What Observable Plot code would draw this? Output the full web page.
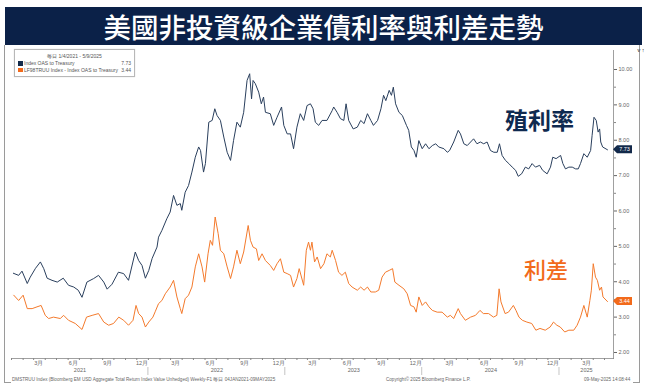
<!DOCTYPE html>
<html><head><meta charset="utf-8">
<script src="https://cdn.jsdelivr.net/npm/d3@7"></script>
<script src="https://cdn.jsdelivr.net/npm/@observablehq/plot@0.6"></script>
<style>
html,body{margin:0;padding:0;background:#fff;}
body{width:647px;height:391px;overflow:hidden;position:relative;font-family:"Noto Sans CJK TC","Noto Sans",sans-serif;}
#title{position:absolute;left:5px;top:7px;width:637px;height:38px;background:#0b2148;color:#fff;font-size:27.5px;line-height:38px;text-align:center;font-weight:500;}
#frameL{position:absolute;left:4px;top:45px;width:1px;height:338px;background:#9a9a9a;}
#frameR{position:absolute;left:639px;top:45px;width:1px;height:338px;background:#9a9a9a;}
#frameBL{position:absolute;left:4px;top:382px;width:7px;height:1px;background:#9a9a9a;}
#frameBR{position:absolute;left:633px;top:382px;width:7px;height:1px;background:#9a9a9a;}
#chart{position:absolute;left:0;top:45px;}
.cap{position:absolute;top:377px;font-family:"Liberation Sans Narrow","Liberation Sans",sans-serif;font-size:4.6px;color:#666;white-space:nowrap;line-height:6px;}
#legend{position:absolute;left:14px;top:49px;width:119px;height:26px;border:1px solid #b8b8b8;background:#fff;font-family:"Liberation Sans Narrow","Liberation Sans",sans-serif;font-size:5px;color:#555;box-shadow:0 0 1px #ccc;}
#legend .hd{text-align:center;margin-top:3px;line-height:7px;}
#legend .row{position:relative;height:6.5px;line-height:6.5px;padding-left:9px;}
#legend .sw{position:absolute;left:3px;top:1px;width:4.5px;height:4.5px;}
#legend .val{position:absolute;right:3px;top:0;}
.ann{position:absolute;font-family:"Noto Sans CJK TC","Noto Sans",sans-serif;white-space:nowrap;}
</style></head>
<body>
<div id="title">美國非投資級企業債利率與利差走勢</div>
<div id="frameL"></div><div id="frameR"></div><div id="frameBL"></div><div id="frameBR"></div>
<div id="chart"></div>
<div id="legend">
  <div class="hd">毎日 1/4/2021 - 5/9/2025</div>
  <div class="row"><span class="sw" style="background:#142c4c"></span>Index OAS to Treasury<span class="val">7.73</span></div>
  <div class="row"><span class="sw" style="background:#f26a1b"></span>LF98TRUU Index - Index OAS to Treasury<span class="val">3.44</span></div>
</div>
<div class="ann" style="left:505px;top:104px;font-size:23px;font-weight:700;color:#0f2a50;line-height:30px;">殖利率</div>
<div class="ann" style="left:524px;top:254px;font-size:22px;font-weight:500;color:#f26a1b;line-height:28px;">利差</div>
<div class="cap" style="left:12px;">DMSTRUU Index (Bloomberg EM USD Aggregate Total Return Index Value Unhedged) Weekly-F1 毎日 04JAN2021-09MAY2025</div>
<div class="cap" style="left:386px;">Copyright© 2025 Bloomberg Finance L.P.</div>
<div class="cap" style="left:584px;">09-May-2025 14:08:44</div>
<script>
// ---- data ----
const yieldDates = ["2021-01-06","2021-01-20","2021-01-29","2021-02-12","2021-02-20","2021-03-06","2021-03-19","2021-03-28","2021-04-06","2021-04-19",
"2021-05-03","2021-05-19","2021-06-02","2021-06-16","2021-06-28","2021-07-08","2021-07-21","2021-08-08","2021-08-21","2021-09-04",
"2021-09-13","2021-09-26","2021-10-13","2021-10-27","2021-11-09","2021-11-27","2021-12-06","2021-12-15","2021-12-24","2022-01-02",
"2022-01-11","2022-01-24","2022-01-28","2022-02-06","2022-02-19","2022-02-28","2022-03-09","2022-03-18","2022-03-27","2022-03-31",
"2022-04-09","2022-04-18","2022-04-27","2022-05-06","2022-05-15","2022-05-20","2022-05-28","2022-06-02","2022-06-11","2022-06-20",
"2022-06-27","2022-07-03","2022-07-12","2022-07-21","2022-07-30","2022-08-08","2022-08-16","2022-08-25","2022-09-03","2022-09-12",
"2022-09-21","2022-09-28","2022-10-03","2022-10-07","2022-10-13","2022-10-22","2022-10-29","2022-11-04","2022-11-09","2022-11-22",
"2022-12-01","2022-12-10","2022-12-22","2022-12-28","2023-01-06","2023-01-15","2023-01-23","2023-02-01","2023-02-10","2023-02-19",
"2023-02-28","2023-03-09","2023-03-16","2023-03-22","2023-03-31","2023-04-09","2023-04-22","2023-05-06","2023-05-10","2023-05-19",
"2023-05-28","2023-06-06","2023-06-12","2023-06-19","2023-07-01","2023-07-12","2023-07-21","2023-07-30","2023-08-08","2023-08-17",
"2023-08-24","2023-09-04","2023-09-13","2023-09-20","2023-09-26","2023-10-05","2023-10-11","2023-10-16","2023-10-22","2023-10-31",
"2023-11-09","2023-11-20","2023-11-26","2023-12-03","2023-12-10","2023-12-16","2023-12-23","2024-01-01","2024-01-10","2024-01-19",
"2024-01-28","2024-02-06","2024-02-14","2024-02-28","2024-03-08","2024-03-14","2024-03-25","2024-04-06","2024-04-12","2024-04-21",
"2024-04-30","2024-05-09","2024-05-17","2024-05-26","2024-06-04","2024-06-13","2024-06-22","2024-07-01","2024-07-10","2024-07-19",
"2024-07-25","2024-08-01","2024-08-10","2024-08-19","2024-08-28","2024-09-06","2024-09-13","2024-09-22","2024-10-02","2024-10-11",
"2024-10-20","2024-10-29","2024-11-09","2024-11-17","2024-11-29","2024-12-08","2024-12-14","2024-12-23","2025-01-04","2025-01-10",
"2025-01-17","2025-01-26","2025-02-04","2025-02-13","2025-02-20","2025-02-26","2025-03-07","2025-03-16","2025-03-25","2025-03-29",
"2025-04-03","2025-04-09","2025-04-14","2025-04-18","2025-04-21","2025-04-26","2025-05-09"];
const yieldValues = [4.24,4.18,4.30,3.95,4.13,4.38,4.56,4.37,4.10,4.04,
3.99,4.10,3.90,3.85,3.76,3.56,3.99,4.09,4.18,3.99,
3.79,3.93,4.27,4.23,4.04,4.84,4.60,4.46,4.10,4.32,
4.66,4.98,5.26,5.45,5.78,5.97,6.44,6.16,6.21,6.02,
6.53,6.72,7.10,7.52,7.81,7.71,7.10,7.34,8.51,8.56,
8.89,8.70,8.56,8.09,7.66,7.43,7.99,8.51,8.37,8.79,
9.69,9.88,9.17,9.69,9.60,9.36,9.03,9.22,8.79,8.75,
8.42,8.65,8.94,8.42,8.18,8.18,7.76,8.37,8.75,8.56,
8.98,9.03,8.89,8.51,8.42,8.56,8.56,8.84,8.94,8.79,
8.61,8.56,9.03,8.56,8.32,8.37,8.56,8.47,8.75,8.56,
8.42,8.56,8.89,9.27,9.12,9.41,9.27,9.50,9.03,8.79,
8.70,8.42,8.28,7.81,7.71,7.52,7.99,7.76,7.90,7.76,
7.85,7.90,7.81,7.76,7.66,7.71,7.95,8.28,8.18,7.90,
7.85,7.95,8.04,7.90,7.95,7.90,7.95,7.71,7.66,7.66,
7.90,7.57,7.43,7.34,7.24,7.15,6.98,7.05,7.24,7.19,
7.34,7.24,7.29,7.15,7.05,7.24,7.52,7.48,7.57,7.34,
7.19,7.24,7.24,7.19,7.19,7.34,7.62,7.52,7.71,8.14,
8.65,8.56,8.23,8.32,7.95,7.81,7.73];

const spreadDates = ["2021-01-07","2021-01-20","2021-02-01","2021-02-12","2021-02-25","2021-03-10","2021-03-21","2021-04-01","2021-04-10","2021-04-23",
"2021-05-11","2021-05-20","2021-06-02","2021-06-20","2021-07-08","2021-07-20","2021-08-04","2021-08-21","2021-09-04","2021-09-17",
"2021-09-30","2021-10-14","2021-10-27","2021-11-09","2021-11-21","2021-11-29","2021-12-06","2021-12-15","2021-12-24","2022-01-02",
"2022-01-13","2022-01-19","2022-01-28","2022-02-06","2022-02-15","2022-02-28","2022-03-09","2022-03-18","2022-03-27","2022-03-31",
"2022-04-09","2022-04-18","2022-04-27","2022-05-06","2022-05-15","2022-05-24","2022-05-31","2022-06-09","2022-06-15","2022-06-21",
"2022-06-28","2022-07-06","2022-07-12","2022-07-21","2022-07-30","2022-08-08","2022-08-16","2022-08-25","2022-09-03","2022-09-12",
"2022-09-24","2022-09-30","2022-10-07","2022-10-16","2022-10-22","2022-10-31","2022-11-09","2022-11-22","2022-12-01","2022-12-10",
"2022-12-19","2022-12-28","2023-01-06","2023-01-15","2023-01-23","2023-02-01","2023-02-07","2023-02-19","2023-02-26","2023-03-04",
"2023-03-09","2023-03-13","2023-03-20","2023-03-27","2023-04-05","2023-04-14","2023-04-22","2023-05-01","2023-05-06","2023-05-15",
"2023-05-23","2023-06-01","2023-06-10","2023-06-19","2023-06-28","2023-07-12","2023-07-21","2023-07-30","2023-08-08","2023-08-17",
"2023-08-29","2023-09-07","2023-09-16","2023-09-25","2023-10-05","2023-10-14","2023-10-20","2023-10-31","2023-11-13","2023-11-22",
"2023-12-01","2023-12-10","2023-12-16","2023-12-23","2024-01-01","2024-01-10","2024-01-19","2024-01-28","2024-02-10","2024-02-23",
"2024-03-08","2024-03-16","2024-03-25","2024-04-06","2024-04-12","2024-04-25","2024-05-09","2024-05-22","2024-06-03","2024-06-12",
"2024-06-26","2024-07-09","2024-07-18","2024-07-24","2024-07-29","2024-08-09","2024-08-18","2024-08-31","2024-09-07","2024-09-15",
"2024-09-24","2024-10-06","2024-10-19","2024-10-30","2024-11-10","2024-11-24","2024-12-07","2024-12-16","2024-12-25","2025-01-03",
"2025-01-15","2025-01-26","2025-02-08","2025-02-17","2025-02-26","2025-03-07","2025-03-16","2025-03-23","2025-03-27","2025-04-01",
"2025-04-07","2025-04-12","2025-04-18","2025-04-23","2025-04-27","2025-05-09"];
const spreadValues = [3.62,3.47,3.62,3.24,3.24,3.29,3.33,3.05,2.96,3.00,
2.96,3.05,2.91,2.82,2.65,3.00,3.05,3.10,2.86,2.77,
2.82,3.00,2.91,2.77,2.91,3.33,3.10,3.00,2.72,2.86,
3.00,3.15,3.38,3.47,3.66,3.85,4.04,3.57,3.24,3.10,
3.52,3.62,3.85,4.42,4.79,4.42,3.99,4.79,5.17,5.03,
5.83,5.36,4.89,4.79,4.42,4.09,4.42,4.89,4.51,4.84,
5.59,5.17,4.98,4.93,4.60,4.79,4.60,4.46,4.32,4.51,
4.65,4.27,4.23,4.18,3.85,4.09,4.37,3.90,4.89,5.12,
4.89,5.12,4.56,4.70,4.37,4.51,4.79,4.70,4.89,4.60,
4.27,4.18,4.27,3.95,3.85,3.76,3.85,3.76,3.85,3.71,
3.71,3.76,4.13,4.27,4.32,4.37,3.99,3.90,3.80,3.66,
3.33,3.29,3.14,3.57,3.33,3.43,3.29,3.19,3.14,3.14,
3.00,3.05,2.96,3.24,3.10,2.91,3.00,3.05,3.19,3.10,
3.10,3.00,3.05,3.80,3.43,3.10,3.14,3.33,3.19,3.00,
2.91,2.86,2.82,2.63,2.68,2.63,2.72,2.86,2.77,2.72,
2.58,2.63,2.63,2.77,3.00,3.33,3.00,3.47,3.76,4.51,
4.13,4.04,3.76,3.85,3.57,3.44];

const yTicks = [2,3,4,5,6,7,8,9,10];
const yMinorTicks = [2.5,3.5,4.5,5.5,6.5,7.5,8.5,9.5];
const monthLabels = ["3月","6月","9月","12月"];
const monthLabelIndex = [2,5,8,11];
const yearLabels = ["2021","2022","2023","2024","2025"];
const lastYield = "7.73", lastSpread = "3.44";

// ---- build ----
const xStart = new Date(Date.UTC(2021,0,1)), xEnd = new Date(Date.UTC(2025,4,25));
const yieldRows = yieldDates.map((d,i)=>({date:new Date(d), v:yieldValues[i]}));
const spreadRows = spreadDates.map((d,i)=>({date:new Date(d), v:spreadValues[i]}));
const monthStarts = d3.utcMonth.range(xStart, xEnd);
const monthLab = [];
yearLabels.forEach(y=>monthLabelIndex.forEach((m,j)=>{
  const d = new Date(Date.UTC(+y, m, 15));
  if (d < xEnd) monthLab.push({date:d, label:monthLabels[j]});
}));
const yearLab = yearLabels.map(y=>{
  const a = new Date(Date.UTC(+y,0,1)), b = new Date(Math.min(+new Date(Date.UTC(+y+1,0,1)), +xEnd));
  return {date:new Date((+a + +b)/2), label:y};
});
const yearStarts = yearLabels.slice(1).map(y=>new Date(Date.UTC(+y,0,1)));

const axisFont = "'Liberation Sans Narrow','Liberation Sans',sans-serif";
const chart = Plot.plot({
  width: 647, height: 340,
  marginLeft: 11, marginRight: 34, marginTop: 5, marginBottom: 27,
  style: {background:"transparent", fontFamily: axisFont, fontSize:"5.5px", color:"#666", overflow:"visible"},
  x: {type:"utc", domain:[xStart, xEnd], axis:null},
  y: {domain:[1.83, 10.537], axis:null},
  marks: [
    Plot.frame({anchor:"bottom", stroke:"#888", strokeWidth:0.8}),
    Plot.frame({anchor:"right", stroke:"#888", strokeWidth:0.8}),
    Plot.axisY({anchor:"right", ticks:yTicks, tickSize:3, tickPadding:2, tickFormat:d=>d.toFixed(2), fontSize:5.5, stroke:"#666", fill:"#666"}),
    Plot.axisY({anchor:"right", ticks:yMinorTicks, tickSize:2, tickFormat:()=>"", stroke:"#888"}),
    Plot.axisX({anchor:"bottom", ticks:monthStarts, tickSize:2, tickFormat:()=>"", stroke:"#888"}),
    Plot.text(monthLab, {x:"date", text:"label", frameAnchor:"bottom", dy:6.5, fontSize:5.5, fill:"#666"}),
    Plot.text(yearLab, {x:"date", text:"label", frameAnchor:"bottom", dy:13.5, fontSize:5.5, fill:"#666"}),
    Plot.lineY(spreadRows, {x:"date", y:"v", stroke:"#f47a2c", strokeWidth:1}),
    Plot.lineY(yieldRows, {x:"date", y:"v", stroke:"#2a3f5d", strokeWidth:1})
  ]
});
document.getElementById("chart").appendChild(chart);

const svg = d3.select(chart);
const sx = chart.scale("x"), sy = chart.scale("y");
const yBottom = sy.apply(1.83);
// year separators below the axis
yearStarts.forEach(d=>{
  svg.append("line").attr("x1",sx.apply(d)).attr("x2",sx.apply(d))
    .attr("y1",yBottom+9).attr("y2",yBottom+17).attr("stroke","#aaa").attr("stroke-width",0.7);
});
// value boxes on the right axis
function valBox(v, label, fill){
  const y = sy.apply(+v), x0 = sx.apply(xEnd);
  svg.append("polygon").attr("points",[[x0,y],[x0+4,y-4],[x0+19,y-4],[x0+19,y+4],[x0+4,y+4]].map(p=>p.join(",")).join(" "))
    .attr("fill",fill);
  svg.append("text").attr("x",x0+11.5).attr("y",y).attr("dy","0.35em").attr("text-anchor","middle")
    .attr("fill","#fff").attr("font-size",5.5).attr("font-family",axisFont).text(label);
}
valBox(lastYield, lastYield, "#12294a");
valBox(lastSpread, lastSpread, "#f26a1b");
</script>
</body></html>
